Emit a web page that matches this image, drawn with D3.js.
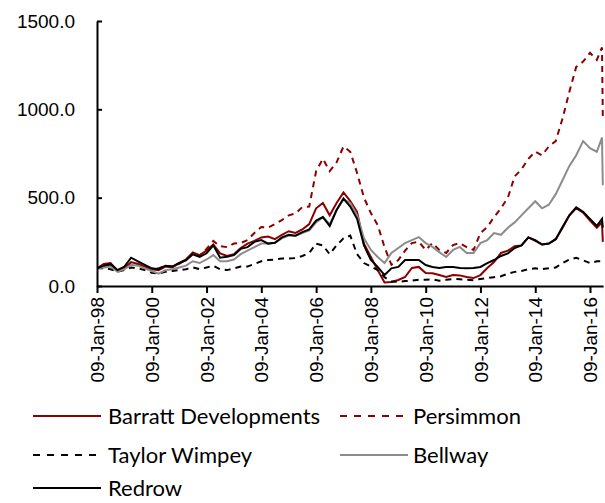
<!DOCTYPE html>
<html>
<head>
<meta charset="utf-8">
<script src="https://cdn.jsdelivr.net/npm/d3@7"></script>
<style>
  body { margin: 0; background: #fff; }
  svg { display: block; font-family: Lato, "Open Sans", sans-serif; }
  .axis path, .axis line { stroke: #000; stroke-width: 2; }
  .axis text { font-size: 19px; fill: #000; }
</style>
</head>
<body>
<script>
// quarterly observations, last two points around end of June 2016
const dates = [
  "1998-01-09","1998-04-09","1998-07-09","1998-10-09",
  "1999-01-09","1999-04-09","1999-07-09","1999-10-09",
  "2000-01-09","2000-04-09","2000-07-09","2000-10-09",
  "2001-01-09","2001-04-09","2001-07-09","2001-10-09",
  "2002-01-09","2002-04-09","2002-07-09","2002-10-09",
  "2003-01-09","2003-04-09","2003-07-09","2003-10-09",
  "2004-01-09","2004-04-09","2004-07-09","2004-10-09",
  "2005-01-09","2005-04-09","2005-07-09","2005-10-09",
  "2006-01-09","2006-04-09","2006-07-09","2006-10-09",
  "2007-01-09","2007-04-09","2007-07-09","2007-10-09",
  "2008-01-09","2008-04-09","2008-07-09","2008-10-09",
  "2009-01-09","2009-04-09","2009-07-09","2009-10-09",
  "2010-01-09","2010-04-09","2010-07-09","2010-10-09",
  "2011-01-09","2011-04-09","2011-07-09","2011-10-09",
  "2012-01-09","2012-04-09","2012-07-09","2012-10-09",
  "2013-01-09","2013-04-09","2013-07-09","2013-10-09",
  "2014-01-09","2014-04-09","2014-07-09","2014-10-09",
  "2015-01-09","2015-04-09","2015-07-09","2015-10-09",
  "2016-01-09","2016-04-09","2016-06-17","2016-06-28"
];

const barratt = [
  100,125,130,85, 100,135,125,110, 95,90,110,105, 130,150,190,175,
  200,235,185,170, 180,215,240,255, 275,280,265,290, 310,300,320,350,
  440,470,400,470, 530,480,420,240, 164,90,20,23, 34,51,102,108,
  74,72,62,51, 62,60,51,45, 62,102,136,187, 200,225,230,275,
  255,235,240,265, 330,400,440,415, 370,330,360,250
];
const persimmon = [
  100,120,115,85, 100,130,125,110, 95,100,115,110, 125,150,180,170,
  210,255,225,220, 240,243,260,300, 334,330,350,373, 400,410,447,450,
  650,720,650,700, 790,760,640,500, 413,345,220,120, 147,200,243,250,
  204,243,204,187, 232,243,220,204, 300,334,390,440, 500,620,660,720,
  760,740,790,820, 950,1100,1240,1270, 1320,1280,1350,950
];
const taylorWimpey = [
  100,100,95,80, 90,105,100,90, 75,70,80,85, 90,95,105,95,
  105,115,95,90, 100,110,110,125, 140,147,150,155, 155,158,170,187,
  240,230,180,230, 270,285,180,130, 110,90,50,25, 23,28,30,35,
  35,38,30,35, 40,38,35,33, 40,45,50,55, 70,80,85,95,
  100,95,100,105, 130,150,160,145, 130,140,140,125
];
const bellway = [
  100,105,110,80, 95,120,115,100, 85,70,90,95, 105,115,140,130,
  150,175,140,140, 150,180,200,220, 240,240,245,270, 285,285,300,315,
  360,390,350,430, 490,470,400,270, 204,164,130,187, 215,243,260,277,
  243,221,192,164, 204,221,187,187, 243,260,300,290, 330,360,400,440,
  480,440,460,520, 600,680,740,820, 780,760,840,570
];
const redrow = [
  100,115,125,90, 110,160,140,120, 100,95,115,110, 130,145,180,165,
  185,230,160,165, 175,210,220,250, 260,240,245,275, 290,285,305,320,
  370,390,340,430, 495,450,380,230, 147,108,62,100, 108,147,147,147,
  119,108,102,108, 108,102,100,102, 108,130,147,170, 185,215,230,275,
  260,235,240,265, 335,400,445,420, 380,340,380,330
];

const seriesNames = ["Barratt Developments", "Persimmon", "Taylor Wimpey", "Bellway", "Redrow"];
const yTicks = [0, 500, 1000, 1500];
const xTickYears = [1998, 2000, 2002, 2004, 2006, 2008, 2010, 2012, 2014, 2016];

const styles = {
  "Barratt Developments": { color: "#8b0000", dash: null },
  "Persimmon": { color: "#8b0000", dash: "6,5" },
  "Taylor Wimpey": { color: "#000", dash: "6,5" },
  "Bellway": { color: "#8c8c8c", dash: null },
  "Redrow": { color: "#000", dash: null }
};

const W = 605, H = 503;
const plotLeft = 97, plotTop = 21, plotBottom = 286;

const parse = d3.timeParse("%Y-%m-%d");
const t0 = parse("1998-01-09"), t16 = parse("2016-01-09"), tEnd = parse("2016-07-02");

// 1998 tick at x=97, 2016 tick at x=590, extend to the end of the data
const ref = d3.scaleTime().domain([t0, t16]).range([plotLeft, 590]);
const x = d3.scaleTime().domain([t0, tEnd]).range([plotLeft, ref(tEnd)]);
const y = d3.scaleLinear().domain([0, 1500]).range([plotBottom, plotTop]);

const svg = d3.select("body").append("svg").attr("width", W).attr("height", H);

svg.append("clipPath").attr("id", "clip")
  .append("rect").attr("x", plotLeft).attr("y", 0).attr("width", W - plotLeft).attr("height", plotBottom + 2);

const seriesData = [barratt, persimmon, taylorWimpey, bellway, redrow].map((vals, i) => ({
  name: seriesNames[i],
  values: vals.map((v, j) => ({ date: parse(dates[j]), value: v }))
}));

const line = d3.line().x(d => x(d.date)).y(d => y(d.value));

svg.append("g").attr("clip-path", "url(#clip)")
  .selectAll("path").data(seriesData).join("path")
  .attr("d", d => line(d.values))
  .attr("fill", "none")
  .attr("stroke", d => styles[d.name].color)
  .attr("stroke-width", 2)
  .attr("stroke-dasharray", d => styles[d.name].dash);

// axes
const yAxis = svg.append("g").attr("class", "axis")
  .attr("transform", `translate(${plotLeft},0)`)
  .call(d3.axisLeft(y).tickValues(yTicks).tickFormat(d3.format(".1f"))
    .tickSizeInner(-5).tickSizeOuter(0).tickPadding(22));
yAxis.selectAll("text").attr("font-size", 20);

const xAxis = svg.append("g").attr("class", "axis")
  .attr("transform", `translate(0,${plotBottom})`)
  .call(d3.axisBottom(x).tickValues(xTickYears.map(yr => new Date(yr, 0, 9)))
    .tickFormat(d3.timeFormat("%d-%b-%y")).tickSizeInner(7).tickSizeOuter(0));

xAxis.selectAll("text")
  .attr("transform", "rotate(-90)")
  .attr("text-anchor", "end")
  .attr("x", -11).attr("y", 0).attr("dy", "0.35em");

// legend
const legendPos = [
  { x: 33, y: 416 }, { x: 340, y: 416 },
  { x: 33, y: 455 }, { x: 340, y: 455 },
  { x: 33, y: 488 }
];
const lg = svg.append("g").selectAll("g").data(seriesNames).join("g")
  .attr("transform", (d, i) => `translate(${legendPos[i].x},${legendPos[i].y})`);
lg.append("line")
  .attr("x1", 0).attr("x2", d => styles[d].dash ? 66 : 68)
  .attr("stroke", d => styles[d].color)
  .attr("stroke-width", 2)
  .attr("stroke-dasharray", d => styles[d].dash ? "7,7" : null);
lg.append("text")
  .attr("x", (d, i) => i % 2 === 0 ? 75 : 73)
  .attr("dy", "0.35em")
  .attr("font-size", 22)
  .text(d => d);
</script>
</body>
</html>
